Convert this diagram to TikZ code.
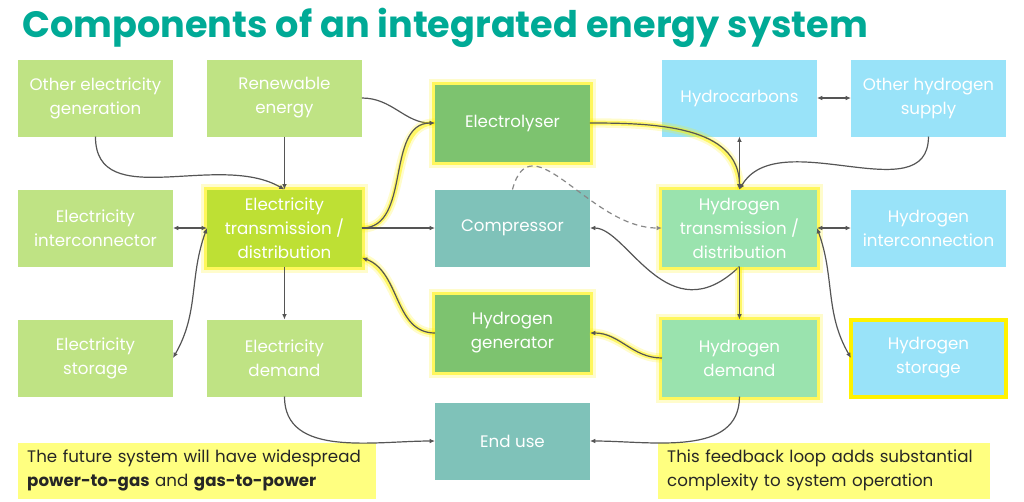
\documentclass[tikz,border=0pt]{standalone}
\usepackage{fontspec}
\setmainfont{Poppins}
\usetikzlibrary{arrows.meta,positioning}
\definecolor{lgreen}{HTML}{BFE384}
\definecolor{ygreen}{HTML}{BEE034}
\definecolor{mgreen}{HTML}{7DC36F}
\definecolor{tealbox}{HTML}{7FC2B9}
\definecolor{mint}{HTML}{9AE3AE}
\definecolor{sky}{HTML}{99E3F9}
\definecolor{notecol}{HTML}{FFFF80}
\definecolor{titlecol}{HTML}{00AA96}
\definecolor{wire}{HTML}{555555}

\begin{document}
\begin{tikzpicture}[>={Latex[length=4pt,width=3.5pt]},node distance=39.75pt and 25.5pt]
  \tikzstyle{box}=[minimum width=116.25pt,minimum height=57.75pt,align=center,text=white,outer sep=0pt,font=\fontsize{12.5}{18}\selectfont]
  \tikzstyle{glow}=[preaction={draw=yellow,line width=9pt,opacity=0.2},preaction={draw=yellow,line width=4.5pt,opacity=0.55}]
  \tikzstyle{link}=[draw=wire,line width=0.9pt]
  \tikzstyle{glowlink}=[link,preaction={draw=yellow,line width=7pt,opacity=0.2,-},preaction={draw=yellow,line width=3.5pt,opacity=0.5,-}]
  \tikzstyle{dashlink}=[draw=wire!70,line width=0.9pt,dash pattern=on 4pt off 3pt]
  \tikzstyle{notebox}=[fill=notecol,align=left,inner xsep=6.75pt,minimum height=42pt,text=black!85,font=\fontsize{12.5}{18}\selectfont]
  \useasboundingbox (0,0) rectangle (768pt,-375.75pt);

  \node[anchor=base west,text=titlecol,inner sep=0pt,font=\bfseries\fontsize{27.5}{30}\selectfont] (title) at (16.5pt,-27.75pt) {Components of an integrated energy system};

  \node[box,fill=lgreen] (othergen) at (71.6pt,-73.5pt) {Other electricity\\generation};
  \node[box,fill=lgreen,right=of othergen] (renew) {Renewable\\energy};
  \node[box,fill=ygreen,glow,below=of renew] (eltrans) {Electricity\\transmission /\\distribution};
  \node[box,fill=lgreen,left=of eltrans] (elinter) {Electricity\\interconnector};
  \node[box,fill=lgreen,below=of elinter] (elstore) {Electricity\\storage};
  \node[box,fill=lgreen,below=of eltrans] (eldem) {Electricity\\demand};

  \node[box,fill=tealbox,right=54.75pt of eltrans] (compressor) {Compressor};
  \node[box,fill=mgreen,glow,above=21pt of compressor] (electrolyser) {Electrolyser};
  \node[box,fill=mgreen,glow,below=21pt of compressor] (h2gen) {Hydrogen\\generator};
  \node[box,fill=tealbox,below=23.25pt of h2gen] (enduse) {End use};

  \node[box,fill=mint,glow,right=54pt of compressor] (h2trans) {Hydrogen\\transmission /\\distribution};
  \node[box,fill=sky,above=of h2trans] (hydrocarb) {Hydrocarbons};
  \node[box,fill=mint,glow,below=of h2trans] (h2dem) {Hydrogen\\demand};
  \node[box,fill=sky,right=of h2trans] (h2inter) {Hydrogen\\interconnection};
  \node[box,fill=sky,above=of h2inter] (otherh2) {Other hydrogen\\supply};
  \node[box,fill=sky,draw=yellow,line width=3pt,below=of h2inter] (h2store) {Hydrogen\\storage};

  \node[notebox,text width=255pt,below right=34.5pt and 0pt of elstore.south west] (note1) {The future system will have widespread\\\textbf{power-to-gas} and \textbf{gas-to-power}};
  \node[notebox,text width=235.5pt,below right=34.5pt and -3pt of h2dem.south west] (note2) {This feedback loop adds substantial\\complexity to system operation};

  \draw[link,->] (othergen.south) to[out=-90,in=150] (eltrans.north);
  \draw[link,->] (renew) -- (eltrans);
  \draw[link,->] (renew.east) to[out=0,in=180] (electrolyser.west);
  \draw[glowlink,->] (eltrans.east) to[out=0,in=180] (electrolyser.west);
  \draw[link,->] (eltrans) -- (compressor);
  \draw[glowlink,->] (h2gen.west) to[out=180,in=-20] (eltrans.-21);
  \draw[link,<->] (elinter) -- (eltrans);
  \draw[link,<->] (eltrans.west) to[out=-110,in=60] (elstore.east);
  \draw[link,->] (eltrans) -- (eldem);
  \draw[link,->] (eldem.south) to[out=-90,in=180] (enduse.west);
  \draw[glowlink,->] (electrolyser.east) to[out=0,in=90] (h2trans.north);
  \draw[link,<->] (hydrocarb) -- (h2trans);
  \draw[link,->] (otherh2.south) to[out=-90,in=60] (h2trans.north);
  \draw[link,<->] (hydrocarb) -- (otherh2);
  \draw[dashlink,->] (compressor.north) to[out=75,in=180,looseness=1.2] (h2trans.west);
  \draw[link,->] (h2trans.south) to[out=-136,in=0,out looseness=1.65,in looseness=0.62] (compressor.east);
  \draw[glowlink,->] (h2trans) -- (h2dem);
  \draw[link,<->] (h2trans) -- (h2inter);
  \draw[link,<->] (h2trans.east) to[out=-70,in=120] (h2store.west);
  \draw[glowlink,->] (h2dem.west) to[out=180,in=0] (h2gen.east);
  \draw[link,->] (h2dem.south) to[out=-90,in=0] (enduse.east);
\end{tikzpicture}
\end{document}
